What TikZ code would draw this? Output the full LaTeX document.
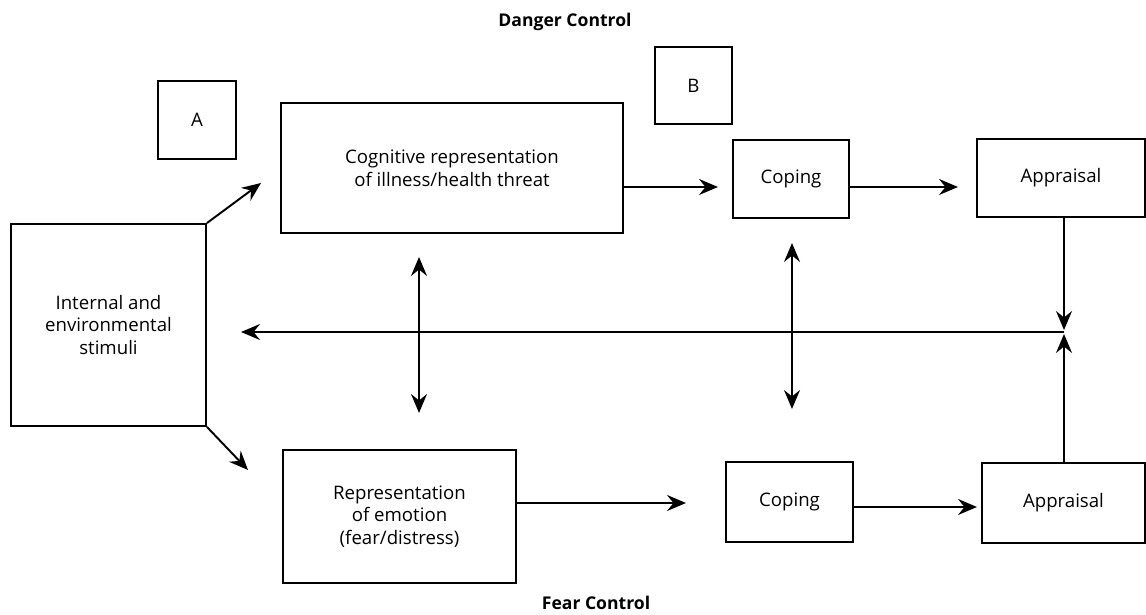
\documentclass[tikz,border=0pt]{standalone}
\usepackage{fontspec}
\setmainfont{Open Sans}
\usetikzlibrary{arrows.meta}

\begin{document}
\begin{tikzpicture}[x=0.02cm, y=-0.02cm]
	\tikzset{boite/.style={rectangle, draw=black, line width=1.1pt, inner sep=0pt, align=center, font=\fontsize{10.6}{13}\selectfont},
		fleche/.style={-{Stealth[length=3.8mm, width=3.2mm, inset=1.3mm]}, line width=1.1pt},
		fleches/.style={{Stealth[length=3.8mm, width=3.2mm, inset=1.3mm]}-{Stealth[length=3.8mm, width=3.2mm, inset=1.3mm]}, line width=1.1pt},
		titre/.style={font=\fontsize{10}{13}\selectfont\bfseries}};

	\useasboundingbox (0,0) rectangle (1146,615);

	\node[titre] (dc) at (565,  22) {Danger Control};
	\node[titre] (fc) at (596, 603) {Fear Control};

	\node[boite, minimum width=1.56cm, minimum height=1.56cm] (bA) at ( 197, 120) {A};
	\node[boite, minimum width=1.54cm, minimum height=1.54cm] (bB) at (693.5, 85.5) {B};

	\node[boite, minimum width=3.9cm,  minimum height=4.04cm] (stim) at (108.5, 325) {Internal and\\environmental\\stimuli};
	\node[boite, minimum width=6.84cm, minimum height=2.6cm]  (cogn) at ( 452, 168) {Cognitive representation\\of illness/health threat};
	\node[boite, minimum width=4.66cm, minimum height=2.66cm] (emo)  at (399.5, 516.5) {Representation\\of emotion\\(fear/distress)};

	\node[boite, minimum width=2.32cm, minimum height=1.56cm] (cop1) at ( 791, 179) {Coping};
	\node[boite, minimum width=3.36cm, minimum height=1.56cm] (app1) at (1061, 178) {Appraisal};
	\node[boite, minimum width=2.54cm, minimum height=1.6cm]  (cop2) at (789.5, 502) {Coping};
	\node[boite, minimum width=3.26cm, minimum height=1.6cm]  (app2) at (1063.5, 503) {Appraisal};

	% bouts libres des fleches
	\coordinate (p1) at ( 261, 183);
	\coordinate (p2) at ( 248, 470);
	\coordinate (p3) at ( 718, 187);
	\coordinate (p4) at ( 958, 187);
	\coordinate (p5) at ( 686, 503);
	\coordinate (p6) at ( 977, 507);
	\coordinate (m1) at (1064, 330);
	\coordinate (m2) at (1064, 334);
	\coordinate (m3) at (1064, 332);
	\coordinate (g1) at ( 241, 332);
	\coordinate (v1) at ( 419, 257);
	\coordinate (v2) at ( 419, 413);
	\coordinate (v3) at ( 792, 243);
	\coordinate (v4) at ( 792, 409);

	\draw[fleche] (stim.north east) -- (p1);
	\draw[fleche] (stim.south east) -- (p2);
	\draw[fleche] (cogn.east |- p3) -- (p3);
	\draw[fleche] (cop1.east |- p4) -- (p4);
	\draw[fleche] (emo.east |- p5) -- (p5);
	\draw[fleche] (cop2.east |- p6) -- (p6);
	\draw[fleche] (app1.south -| m1) -- (m1);
	\draw[fleche] (app2.north -| m2) -- (m2);
	\draw[fleche] (m3) -- (g1);
	\draw[fleches] (v1) -- (v2);
	\draw[fleches] (v3) -- (v4);

\end{tikzpicture}
\end{document}
